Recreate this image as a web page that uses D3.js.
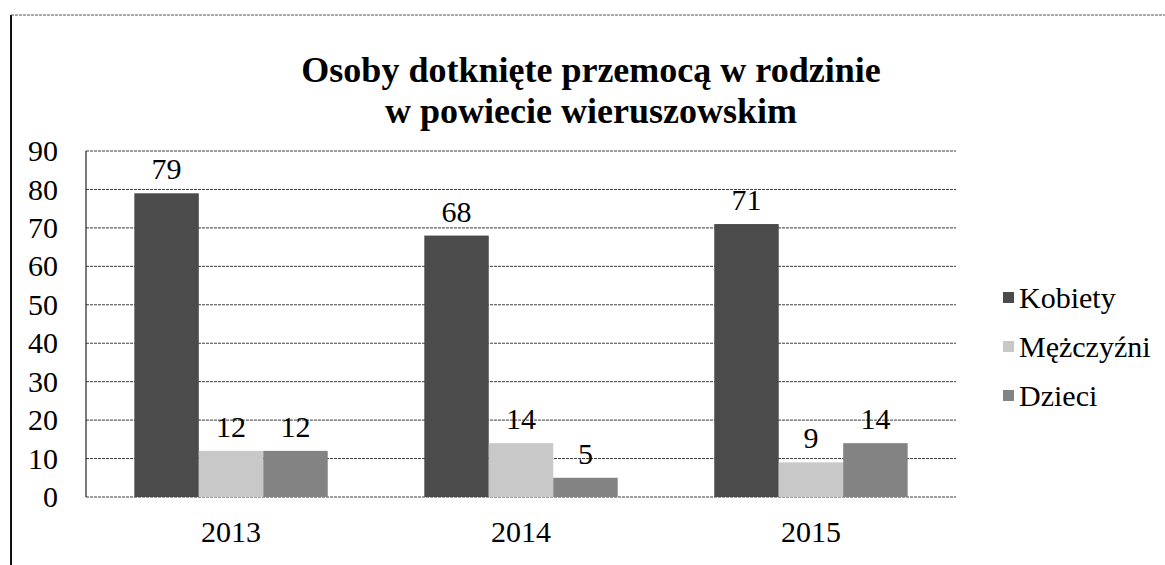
<!DOCTYPE html>
<html>
<head>
<meta charset="utf-8">
<script src="https://cdn.jsdelivr.net/npm/d3@7"></script>
<style>
  body { margin: 0; background: #fff; font-family: "Liberation Serif"; }
  svg text { font-family: "Liberation Serif" !important; }
</style>
</head>
<body>
<div id="chart"></div>
<script>
// chart data
var years = ["2013", "2014", "2015"];
var seriesNames = ["Kobiety", "Mężczyźni", "Dzieci"];
var kobiety = [79, 68, 71];
var mezczyzni = [12, 14, 9];
var dzieci = [12, 5, 14];
var yTicks = [0, 10, 20, 30, 40, 50, 60, 70, 80, 90];
var titleLines = ["Osoby dotknięte przemocą w rodzinie", "w powiecie wieruszowskim"];

var colors = ["#4b4b4b", "#c8c8c8", "#838383"];
var serif = "Liberation Serif";

// svg size
var svgWidth = 1165;
var svgHeight = 565;

var margin = { top: 151, right: 209, bottom: 68, left: 86 };
var width = svgWidth - margin.left - margin.right;
var height = svgHeight - margin.top - margin.bottom;

var svg = d3.select("#chart")
    .append("svg")
    .attr("width", svgWidth)
    .attr("height", svgHeight)
    .attr("font-family", serif);

// outer frame (left + top edges of the scanned box)
svg.append("line")
    .attr("x1", 11).attr("x2", 11).attr("y1", 15).attr("y2", svgHeight)
    .attr("stroke", "#111").attr("stroke-width", 2);
svg.append("line")
    .attr("x1", 11).attr("x2", svgWidth).attr("y1", 15).attr("y2", 15)
    .attr("stroke", "#555").attr("stroke-width", 1).attr("stroke-dasharray", "3,1");

// title
svg.append("g")
    .selectAll("text")
    .data(titleLines)
    .enter()
    .append("text")
    .attr("x", 591)
    .attr("y", (d, i) => 82 + i * 41)
    .attr("text-anchor", "middle")
    .attr("font-size", 36)
    .attr("font-weight", "bold")
    .text(d => d);

var chartGroup = svg.append("g")
    .attr("transform", `translate(${margin.left}, ${margin.top})`);

// scales
var x0 = d3.scaleBand()
    .domain(years)
    .range([0, width])
    .paddingInner(0.333)
    .paddingOuter(0.1667);

var x1 = d3.scaleBand()
    .domain(seriesNames)
    .range([0, x0.bandwidth()]);

var yScale = d3.scaleLinear()
    .domain([0, 90])
    .range([height, 0]);

// gridlines
chartGroup.append("g")
    .selectAll("line")
    .data(yTicks)
    .enter()
    .append("line")
    .attr("x1", 0)
    .attr("x2", width)
    .attr("y1", d => yScale(d))
    .attr("y2", d => yScale(d))
    .attr("stroke", "#3a3a3a")
    .attr("stroke-width", 1)
    .attr("stroke-dasharray", "3,1");

// left edge of plot area
chartGroup.append("line")
    .attr("x1", 0).attr("x2", 0).attr("y1", 0).attr("y2", height)
    .attr("stroke", "#222").attr("stroke-width", 1.2);

// y axis labels
var leftAxis = d3.axisLeft(yScale).tickValues(yTicks).tickSize(0).tickPadding(28);
var yAxisG = chartGroup.append("g").call(leftAxis);
yAxisG.select(".domain").remove();
yAxisG.attr("font-family", serif).attr("font-size", 30);
yAxisG.selectAll("text").attr("fill", "#000");

// x axis labels
var bottomAxis = d3.axisBottom(x0).tickSize(0).tickPadding(24);
var xAxisG = chartGroup.append("g")
    .attr("transform", `translate(0, ${height})`)
    .call(bottomAxis);
xAxisG.select(".domain").remove();
xAxisG.attr("font-family", serif).attr("font-size", 30);
xAxisG.selectAll("text").attr("fill", "#000");

// bars
var seriesData = [kobiety, mezczyzni, dzieci];
var rows = [];
years.forEach(function(year, i) {
    seriesNames.forEach(function(name, j) {
        rows.push({ year: year, name: name, value: seriesData[j][i], color: colors[j] });
    });
});

chartGroup.append("g")
    .selectAll("rect")
    .data(rows)
    .enter()
    .append("rect")
    .attr("x", d => x0(d.year) + x1(d.name))
    .attr("y", d => yScale(d.value))
    .attr("width", x1.bandwidth())
    .attr("height", d => height - yScale(d.value))
    .attr("fill", d => d.color);

// value labels
chartGroup.append("g")
    .attr("font-size", 30)
    .selectAll("text")
    .data(rows)
    .enter()
    .append("text")
    .attr("x", d => x0(d.year) + x1(d.name) + x1.bandwidth() / 2)
    .attr("y", d => yScale(d.value) - 14)
    .attr("text-anchor", "middle")
    .text(d => d.value);

// legend
var legend = svg.append("g")
    .attr("transform", "translate(1003, 298)")
    .attr("font-size", 30);

var legendItem = legend.selectAll("g")
    .data(seriesNames)
    .enter()
    .append("g")
    .attr("transform", (d, i) => `translate(0, ${i * 49})`);

legendItem.append("rect")
    .attr("x", 0)
    .attr("y", -6)
    .attr("width", 11)
    .attr("height", 11)
    .attr("fill", (d, i) => colors[i]);

legendItem.append("text")
    .attr("x", 16)
    .attr("y", 10)
    .text(d => d);
</script>
</body>
</html>
